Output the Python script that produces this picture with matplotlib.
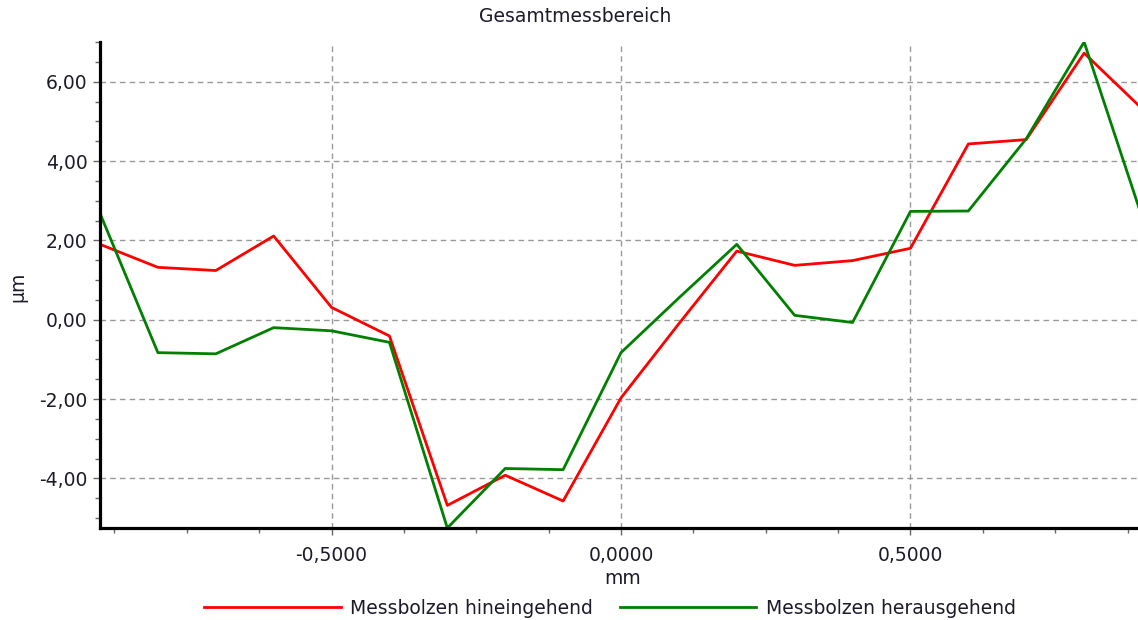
import matplotlib
matplotlib.use("Agg")
import matplotlib.pyplot as plt
from matplotlib.ticker import MultipleLocator, FuncFormatter

# Messpositionen (mm)
positions = [-0.9, -0.8, -0.7, -0.6, -0.5, -0.4, -0.3, -0.2, -0.1, 0.0,
             0.1, 0.2, 0.3, 0.4, 0.5, 0.6, 0.7, 0.8, 0.9]

# Abweichung in µm
hinein = [1.90, 1.32, 1.24, 2.11, 0.31, -0.41, -4.68, -3.92, -4.57, -1.97,
          -0.10, 1.73, 1.37, 1.49, 1.80, 4.43, 4.54, 6.72, 5.32]
heraus = [2.68, -0.83, -0.86, -0.20, -0.28, -0.57, -5.25, -3.75, -3.78, -0.83,
          0.55, 1.90, 0.11, -0.07, 2.73, 2.74, 4.56, 7.00, 2.59]

labels = ["Messbolzen hineingehend", "Messbolzen herausgehend"]
title = "Gesamtmessbereich"

plt.rcParams["font.family"] = ["DejaVu Sans"]
fs = 13.5
txt_color = "#1b1b2a"

fig = plt.figure(figsize=(11.38, 6.2), dpi=100)
W, H = 1138, 620
ax = fig.add_axes([100 / W, 92 / H, 1042 / W, 486 / H])

l1, = ax.plot(positions, hinein, color="#ff0000", lw=2.0, label=labels[0])
l2, = ax.plot(positions, heraus, color="#008000", lw=2.0, label=labels[1])

ax.set_xlim(-0.9, 0.9)
ax.set_ylim(min(heraus), max(heraus))

ax.xaxis.set_major_locator(MultipleLocator(0.5))
ax.xaxis.set_minor_locator(MultipleLocator(0.125))
ax.yaxis.set_major_locator(MultipleLocator(2))
ax.yaxis.set_minor_locator(MultipleLocator(0.5))
ax.xaxis.set_major_formatter(FuncFormatter(lambda v, p: f"{v:.4f}".replace(".", ",")))
ax.yaxis.set_major_formatter(FuncFormatter(lambda v, p: f"{v:.2f}".replace(".", ",")))

ax.grid(True, which="major", color="#999999", ls=(0, (4, 3)), lw=1.0)
ax.set_axisbelow(True)

for s in ["top", "right"]:
    ax.spines[s].set_visible(False)
for s in ["left", "bottom"]:
    ax.spines[s].set_linewidth(2.3)
    ax.spines[s].set_color("black")

ax.tick_params(which="major", length=5, width=1, color="#666666",
               labelsize=fs, labelcolor=txt_color)
ax.tick_params(axis="y", which="major", pad=4)
ax.tick_params(axis="x", which="major", pad=8)
ax.tick_params(which="minor", length=3.5, width=1, color="#666666")

fig.text(575 / W, 1 - 17 / H, title, ha="center", va="center",
         fontsize=fs, color=txt_color)
fig.text(623 / W, 1 - 578 / H, "mm", ha="center", va="center",
         fontsize=fs, color=txt_color)
fig.text(18 / W, 1 - 287 / H, "µm", ha="center", va="center",
         rotation=90, fontsize=fs, color=txt_color)

fig.legend(handles=[l1, l2], loc="center", bbox_to_anchor=(610 / W, 1 - 608 / H),
           ncol=2, frameon=False, fontsize=fs, handlelength=7.3,
           handletextpad=0.5, columnspacing=1.4, labelcolor=txt_color)

fig.savefig("out.png", dpi=100)
